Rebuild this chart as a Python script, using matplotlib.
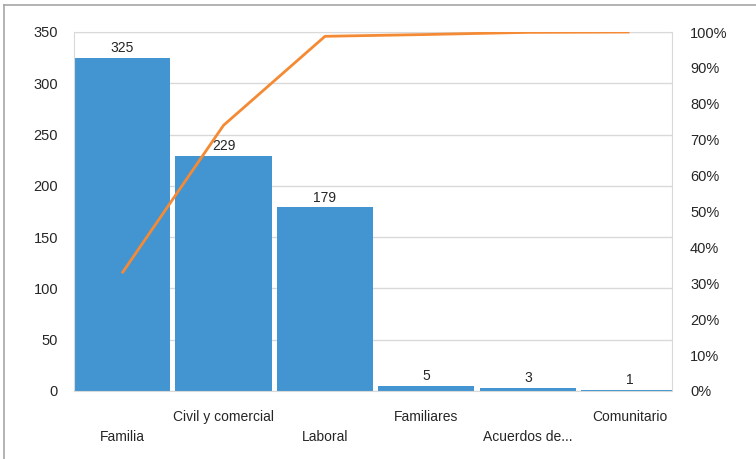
import matplotlib.pyplot as plt
from matplotlib.lines import Line2D
from matplotlib.ticker import FuncFormatter

plt.rcParams['font.family'] = ['Liberation Sans', 'DejaVu Sans']
plt.rcParams['font.size'] = 10

# Casos por materia y porcentaje acumulado
categorias = ["Familia", "Civil y comercial", "Laboral", "Familiares",
              "Acuerdos de...", "Comunitario"]
casos = [325, 229, 179, 5, 3, 1]
acumulado = [32.8, 74.0, 98.8, 99.3, 99.9, 100.0]

azul = "#4395D1"
naranja = "#F58A34"
gris = "#D9D9D9"
texto = "#262626"

fig = plt.figure(figsize=(7.56, 4.59), dpi=100)
ax = fig.add_axes([74 / 756, 1 - 391 / 459, 598 / 756, 359 / 459])

x = list(range(len(categorias)))
barras = ax.bar(x, casos, width=0.946, color=azul, zorder=2)
ax.bar_label(barras, labels=[str(v) for v in casos], padding=2,
             fontsize=10, color=texto)

ax.set_xlim(-0.473, 5.419)
ax.set_ylim(0, 350)
ax.set_yticks(range(0, 351, 50))
ax.grid(axis="y", color=gris, linewidth=1, zorder=0)
ax.set_axisbelow(True)
for s in ax.spines.values():
    s.set_color(gris)
ax.tick_params(axis="y", length=0, pad=11.5, labelcolor=texto, labelsize=10.5)

# etiquetas escalonadas en dos filas
ax.set_xticks(x)
ax.set_xticklabels(categorias, color=texto, fontsize=10)
ax.tick_params(axis="x", length=0)
for i, tick in enumerate(ax.xaxis.get_major_ticks()):
    tick.set_pad(28 if i % 2 == 0 else 13.5)

ax2 = ax.twinx()
ax2.plot(x, acumulado, color=naranja, linewidth=2, zorder=3,
         solid_capstyle="butt")
ax2.set_ylim(0, 100)
ax2.set_yticks(range(0, 101, 10))
ax2.yaxis.set_major_formatter(FuncFormatter(lambda v, p: f"{v:.0f}%"))
ax2.tick_params(axis="y", length=0, pad=13, labelcolor=texto, labelsize=10.5)
for s in ax2.spines.values():
    s.set_visible(False)

# marco exterior del grafico
fig.add_artist(Line2D([4 / 756, 1], [1 - 5 / 459, 1 - 5 / 459],
                      color="#A6A6A6", linewidth=1.2))
fig.add_artist(Line2D([4 / 756, 4 / 756], [0, 1 - 5 / 459],
                      color="#A6A6A6", linewidth=1.2))

fig.savefig("out.png", dpi=100)
